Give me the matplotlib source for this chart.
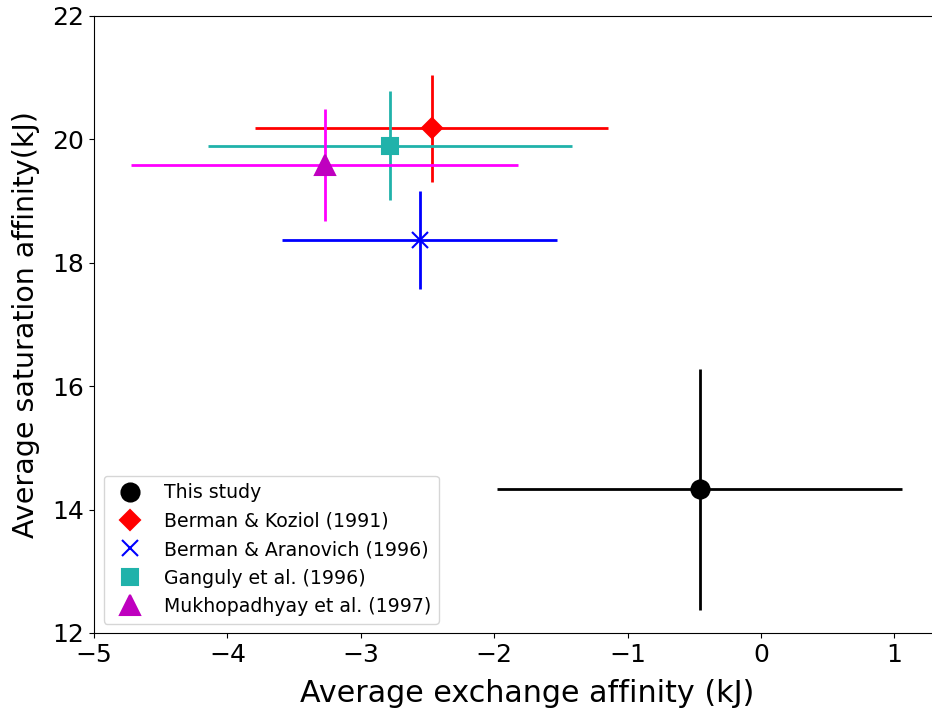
import numpy as np
import matplotlib
matplotlib.use("Agg")
import matplotlib.pyplot as plt

# average affinities (kJ) with their uncertainties
studies = ["This study", "Berman & Koziol (1991)", "Berman & Aranovich (1996)",
           "Ganguly et al. (1996)", "Mukhopadhyay et al. (1997)"]
exch = [-0.46, -2.47, -2.56, -2.78, -3.27]
exch_err = [1.52, 1.32, 1.03, 1.365, 1.45]
sat = [14.33, 20.18, 18.37, 19.90, 19.58]
sat_err = [1.95, 0.865, 0.80, 0.88, 0.91]

bar_colors = ["black", "red", "blue", "lightseagreen", "magenta"]
mk_colors = ["black", "red", "blue", "lightseagreen", "m"]
markers = ["o", "D", "x", "s", "^"]
msizes = [13, 10.5, 11, 12, 14]

fig = plt.figure(figsize=(9.32, 7.12), dpi=100)
ax = fig.add_axes([0.101, 0.111, 0.93, 0.8666])

for i in range(len(studies)):
    ax.errorbar(exch[i], sat[i], xerr=exch_err[i], yerr=sat_err[i], fmt='none',
                ecolor=bar_colors[i], elinewidth=2)
    ax.plot(exch[i], sat[i], linestyle='none', marker=markers[i], ms=msizes[i],
            color=mk_colors[i], mew=1.5, label=studies[i])

ax.set_xlim(-5, 1.5)
ax.set_ylim(12, 22)
ax.set_xticks(np.arange(-5, 2, 1))
ax.set_yticks(np.arange(12, 23, 2))
ax.tick_params(labelsize=18)
ax.set_xlabel("Average exchange affinity (kJ)", fontsize=21.7, labelpad=9)
ax.set_ylabel("Average saturation affinity(kJ)", fontsize=20.5, labelpad=9)
ax.legend(loc='lower left', fontsize=13.6)

fig.savefig("out.png", dpi=100)
